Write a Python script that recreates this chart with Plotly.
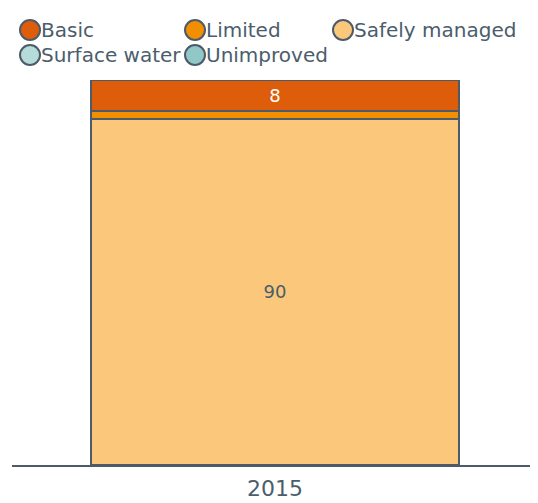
import plotly.graph_objects as go

# ---- data ----
years = ["2015"]
series_names = ["Safely managed", "Limited", "Basic", "Unimproved", "Surface water"]
safely_managed = [90]
limited = [2]
basic = [8]
unimproved = [0]
surface_water = [0]

legend_order = ["Basic", "Limited", "Safely managed", "Surface water", "Unimproved"]

colors = {
    "Basic": "#dd5d0a",
    "Limited": "#f28f00",
    "Safely managed": "#fbc87b",
    "Surface water": "#b5dcd9",
    "Unimproved": "#8fc8c6",
}
text_colors = {
    "Basic": "#ffffff",
    "Limited": "#4b5d6c",
    "Safely managed": "#4b5d6c",
    "Surface water": "#4b5d6c",
    "Unimproved": "#4b5d6c",
}
values = {
    "Safely managed": safely_managed,
    "Limited": limited,
    "Basic": basic,
    "Unimproved": unimproved,
    "Surface water": surface_water,
}

TEXT = "#4b5d6c"
EDGE = "#4d5b69"
FONT = "DejaVu Sans"

fig = go.Figure()
for name in series_names:
    vals = values[name]
    fig.add_trace(go.Bar(
        x=years, y=vals, name=name,
        marker=dict(color=colors[name], line=dict(color=EDGE, width=2)),
        text=[str(v) for v in vals],
        textposition="inside",
        insidetextanchor="middle",
        textfont=dict(size=18, color=text_colors[name], family=FONT),
        showlegend=False,
        hoverinfo="name+y",
    ))

# ---- custom legend (circle + label), column/row layout in pixels ----
# page body has an 8px default margin, so the figure is sized to fit inside
W, H = 530, 495
ml, mr, mt, mb = 4, 0, 72, 38
pw, ph = W - ml - mr, H - mt - mb
col_px = [22, 187, 335]
row_px = [22, 47]
shapes, annotations = [], []
for i, name in enumerate(legend_order):
    cx = (col_px[i % 3] - ml) / pw
    cy = (H - mb - row_px[i // 3]) / ph
    shapes.append(dict(
        type="circle", xref="paper", yref="paper",
        xsizemode="pixel", ysizemode="pixel",
        xanchor=cx, yanchor=cy, x0=-10, x1=10, y0=-10, y1=10,
        fillcolor=colors[name], line=dict(color=EDGE, width=2),
    ))
    annotations.append(dict(
        xref="paper", yref="paper", x=cx, y=cy, xshift=10,
        xanchor="left", yanchor="middle", showarrow=False,
        text=name, font=dict(size=20, color=TEXT, family=FONT),
        borderpad=0,
    ))

fig.update_layout(
    width=W, height=H,
    barmode="stack",
    bargap=0.3,
    margin=dict(l=ml, r=mr, t=mt, b=mb, autoexpand=False),
    plot_bgcolor="white", paper_bgcolor="white",
    font=dict(family=FONT, color=TEXT),
    uniformtext=dict(minsize=18, mode="hide"),
    showlegend=False,
    shapes=shapes,
    annotations=annotations,
    xaxis=dict(
        showline=True, linecolor=EDGE, linewidth=2,
        showgrid=False, ticks="", zeroline=False,
        tickfont=dict(size=22, color=TEXT, family=FONT),
        ticklabelstandoff=3,
        fixedrange=True,
    ),
    yaxis=dict(
        range=[0, 100], visible=False, showgrid=False, zeroline=False,
        fixedrange=True,
    ),
)

fig.write_html("out.html")
